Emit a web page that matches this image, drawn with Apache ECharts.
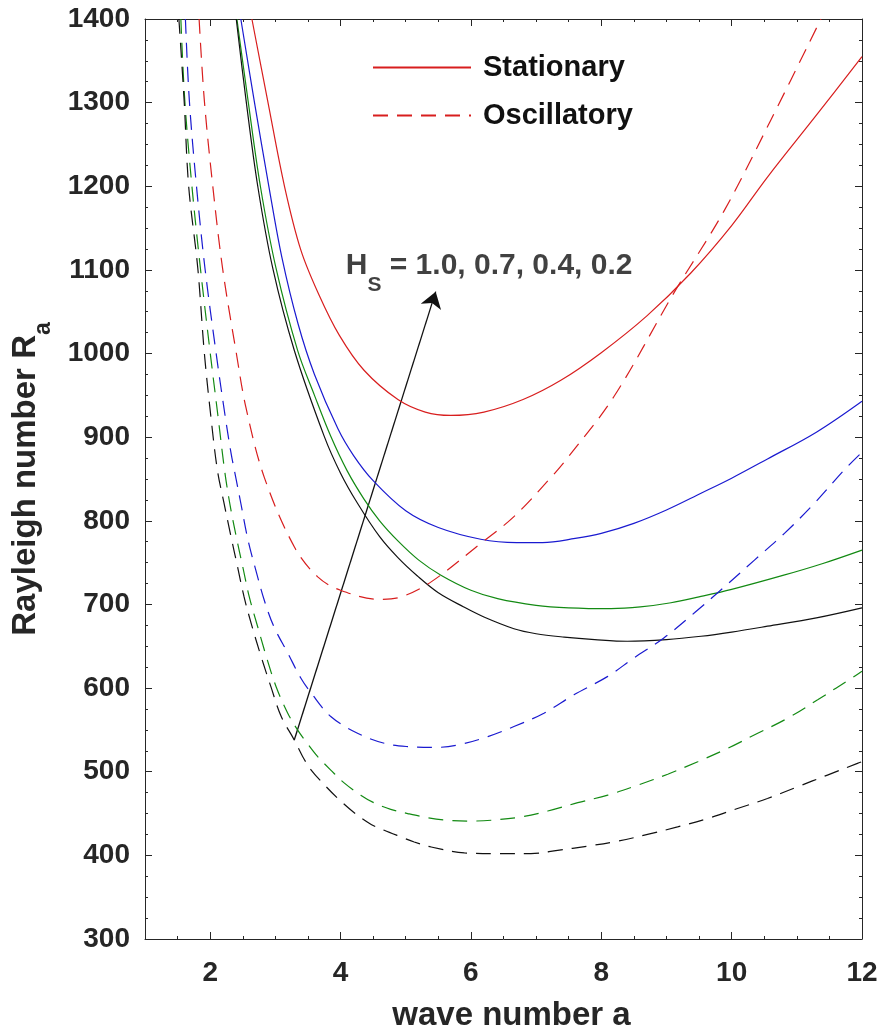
<!DOCTYPE html>
<html>
<head>
<meta charset="utf-8">
<script src="https://cdn.jsdelivr.net/npm/echarts@6/dist/echarts.min.js"></script>
<style>
  html, body { margin: 0; padding: 0; background: #fff; }
  #chart { width: 880px; height: 1034px; }
</style>
</head>
<body>
<div id="chart"></div>
<script>
  // wave number a vs Rayleigh number
  // stationary (solid) curves, one per H_S
  var statH10 = [[2.64,1400],[2.88,1303],[3.14,1200],[3.39,1124],[3.67,1070],[3.98,1022],[4.36,980],[4.88,945],[5.3,930],[5.69,926],[6.2,930],[6.8,945],[7.38,968],[8.0,1001],[8.7,1045],[9.37,1096],[10.0,1153],[10.55,1211],[11.3,1285],[12,1355]];
  var statH07 = [[2.47,1400],[2.68,1300],[2.9,1200],[3.1,1115],[3.35,1035],[3.6,975],[3.96,910],[4.2,878],[4.5,848],[5.0,812],[5.5,792],[6.15,778],[6.7,774],[7.1,774],[7.6,779],[8.0,785],[8.5,797],[9.0,813],[9.53,833],[10.0,851],[10.55,874],[11.3,906],[12,943]];
  var statH04 = [[2.41,1400],[2.58,1303],[2.77,1200],[3.01,1102],[3.34,1004],[3.6,950],[3.85,901],[4.1,860],[4.36,826],[4.6,800],[4.88,776],[5.2,753],[5.54,735],[6.0,717],[6.41,707],[7.0,699],[7.5,696],[8.15,695],[8.6,697],[9.07,702],[9.5,709],[10.0,718],[10.8,735],[11.4,749],[12,765]];
  var statH02 = [[2.40,1400],[2.55,1303],[2.73,1200],[2.96,1102],[3.29,1004],[3.75,901],[4.0,857],[4.26,821],[4.6,781],[4.88,756],[5.18,734],[5.5,714],[5.89,697],[6.2,685],[6.66,671],[7.0,665],[7.43,661],[7.9,658],[8.4,656],[9.0,658],[9.53,662],[10.0,667],[10.55,674],[11.3,684],[12,696]];
  // oscillatory (dashed) curves
  var oscH10 = [[1.83,1400],[1.91,1303],[2.04,1200],[2.19,1102],[2.40,1001],[2.55,935],[2.83,852],[3.29,769],[3.65,733],[4.0,717],[4.6,706],[4.93,709],[5.39,727],[6.15,773],[6.66,805],[7.23,852],[7.49,876],[8.19,948],[9.11,1072],[9.88,1170],[10.6,1279],[11.37,1400]];
  var oscH07 = [[1.62,1400],[1.68,1303],[1.79,1200],[1.92,1102],[2.09,1001],[2.23,925],[2.32,881],[2.40,849],[2.47,821],[2.58,777],[2.70,741],[2.83,705],[2.98,673],[3.19,642],[3.39,612],[3.55,594],[3.85,566],[4.26,546],[4.67,534],[5.03,530],[5.43,529],[5.80,532],[6.26,542],[6.66,554],[7.12,570],[7.58,592],[8.10,614],[8.5,636],[8.96,660],[9.43,690],[9.83,717],[10.35,753],[10.81,785],[11.27,821],[11.73,861],[12,882]];
  var oscH04 = [[1.55,1400],[1.61,1303],[1.72,1200],[1.85,1102],[2.0,1001],[2.12,925],[2.22,861],[2.30,821],[2.40,781],[2.50,745],[2.60,709],[2.73,673],[2.86,638],[3.01,602],[3.19,570],[3.34,550],[3.47,536],[3.65,518],[3.85,502],[4.05,487],[4.31,472],[4.51,463],[4.77,455],[5.03,450],[5.34,445],[5.64,442],[6.0,441],[6.31,442],[6.77,446],[7.18,453],[7.64,463],[8.1,472],[8.56,484],[9.02,497],[9.48,512],[9.94,528],[10.4,546],[10.86,564],[11.32,586],[11.88,614],[12,620]];
  var oscH02 = [[1.52,1400],[1.60,1303],[1.67,1200],[1.81,1102],[1.91,1001],[2.01,925],[2.11,861],[2.21,822],[2.32,781],[2.42,745],[2.52,709],[2.63,677],[2.78,638],[2.93,602],[3.09,566],[3.29,538],[3.42,518],[3.55,502],[3.78,482],[3.96,468],[4.21,451],[4.47,437],[4.67,430],[4.93,422],[5.13,416],[5.39,410],[5.9,403],[6.41,402],[6.92,402],[7.33,406],[7.79,411],[8.25,417],[8.71,425],[9.17,434],[9.63,444],[10.09,456],[10.55,468],[11.01,482],[11.47,496],[11.93,510],[12,512]];

  var xMajorTicks = [2, 4, 6, 8, 10, 12];
  var arrowFrom = [3.29, 538];
  var arrowTo = [5.46, 1074];
  var notePos = [4.08, 1096];
  var legendNames = ['Stationary', 'Oscillatory'];

  var FONT = '"Liberation Sans", Arial, sans-serif';
  var AXIS_COLOR = '#262626';
  var RED = '#d81e1e', BLUE = '#1a1ad0', GREEN = '#138a13', BLACK = '#111111';
  var DASH = [15, 9];

  var chart = echarts.init(document.getElementById('chart'));

  function curve(name, data, color, dashed) {
    return {
      name: name,
      type: 'line',
      data: data,
      xAxisIndex: 0,
      yAxisIndex: 0,
      symbol: 'none',
      showSymbol: false,
      smooth: 0.35,
      clip: true,
      silent: true,
      color: color,
      lineStyle: { color: color, width: 1.2, type: dashed ? DASH : 'solid' }
    };
  }

  var tickLine = { color: AXIS_COLOR, width: 1 };
  var labelStyle = { fontSize: 28, fontWeight: 'bold', color: AXIS_COLOR, fontFamily: FONT };

  var option = {
    animation: false,
    backgroundColor: '#fff',
    grid: { left: 145, right: 18, top: 19, bottom: 95, containLabel: false, outerBoundsMode: 'none' },
    legend: {
      data: legendNames,
      orient: 'vertical',
      left: 367,
      top: 48,
      itemWidth: 98,
      itemHeight: 28,
      itemGap: 19,
      itemStyle: { opacity: 0 },
      textStyle: { fontSize: 29, fontWeight: 'bold', color: '#111', fontFamily: FONT, padding: [0, 0, 0, 7] }
    },
    xAxis: [
      {
        type: 'value', position: 'bottom', min: 1, max: 12,
        axisLine: { show: true, onZero: false, lineStyle: tickLine },
        axisTick: { show: true, inside: true, length: 7, customValues: xMajorTicks, lineStyle: tickLine },
        axisLabel: Object.assign({ customValues: xMajorTicks, margin: 20 }, labelStyle),
        splitLine: { show: false },
        name: 'wave number a',
        nameLocation: 'middle',
        nameGap: 60,
        nameTextStyle: { fontSize: 33, fontWeight: 'bold', color: AXIS_COLOR, fontFamily: FONT, padding: [0, 0, 0, 16] }
      },
      {
        type: 'value', position: 'bottom', min: 1, max: 12, interval: 0.5,
        axisLine: { show: false },
        axisTick: { show: true, inside: true, length: 3, lineStyle: tickLine },
        axisLabel: { show: false },
        splitLine: { show: false }
      },
      {
        type: 'value', position: 'top', min: 1, max: 12,
        axisLine: { show: true, onZero: false, lineStyle: tickLine },
        axisTick: { show: true, inside: true, length: 7, customValues: xMajorTicks, lineStyle: tickLine },
        axisLabel: { show: false },
        splitLine: { show: false }
      },
      {
        type: 'value', position: 'top', min: 1, max: 12, interval: 0.5,
        axisLine: { show: false },
        axisTick: { show: true, inside: true, length: 3, lineStyle: tickLine },
        axisLabel: { show: false },
        splitLine: { show: false }
      }
    ],
    yAxis: [
      {
        type: 'value', position: 'left', min: 300, max: 1400, interval: 100,
        axisLine: { show: true, onZero: false, lineStyle: tickLine },
        axisTick: { show: true, inside: true, length: 7, lineStyle: tickLine },
        minorTick: { show: true, splitNumber: 4, length: 3, lineStyle: tickLine },
        axisLabel: Object.assign({ margin: 15, formatter: function (v) { return String(v); } }, labelStyle),
        splitLine: { show: false },
        name: '{t|Rayleigh number R}{s|a}',
        nameLocation: 'middle',
        nameGap: 90,
        nameRotate: 90,
        nameTextStyle: {
          color: AXIS_COLOR,
          rich: {
            t: { fontSize: 33, fontWeight: 'bold', color: AXIS_COLOR, fontFamily: FONT, verticalAlign: 'top', lineHeight: 33 },
            s: { fontSize: 23, fontWeight: 'bold', color: AXIS_COLOR, fontFamily: FONT, verticalAlign: 'bottom', lineHeight: 46 }
          }
        }
      },
      {
        type: 'value', position: 'right', min: 300, max: 1400, interval: 100,
        axisLine: { show: true, onZero: false, lineStyle: tickLine },
        axisTick: { show: true, inside: true, length: 7, lineStyle: tickLine },
        minorTick: { show: true, splitNumber: 4, length: 3, lineStyle: tickLine },
        axisLabel: { show: false },
        splitLine: { show: false }
      }
    ],
    series: [
      curve('Stationary', statH10, RED, false),
      curve('Stationary H=0.7', statH07, BLUE, false),
      curve('Stationary H=0.4', statH04, GREEN, false),
      curve('Stationary H=0.2', statH02, BLACK, false),
      curve('Oscillatory', oscH10, RED, true),
      curve('Oscillatory H=0.7', oscH07, BLUE, true),
      curve('Oscillatory H=0.4', oscH04, GREEN, true),
      curve('Oscillatory H=0.2', oscH02, BLACK, true),
      {
        // H_S note
        type: 'scatter',
        name: 'note',
        data: [notePos],
        symbolSize: 0,
        silent: true,
        label: {
          show: true,
          position: 'right',
          distance: 0,
          formatter: '{h|H}{s|S}{h| = 1.0, 0.7, 0.4, 0.2}',
          rich: {
            h: { fontSize: 30, fontWeight: 'bold', color: '#111', fontFamily: FONT, verticalAlign: 'top', lineHeight: 30 },
            s: { fontSize: 21, fontWeight: 'bold', color: '#111', fontFamily: FONT, verticalAlign: 'bottom', lineHeight: 45 }
          }
        }
      },
      {
        // arrow
        type: 'lines',
        coordinateSystem: 'cartesian2d',
        xAxisIndex: 0,
        yAxisIndex: 0,
        silent: true,
        symbol: ['none', 'arrow'],
        symbolSize: 16,
        lineStyle: { color: '#111', width: 1.3, type: 'solid', opacity: 1 },
        data: [{ coords: [arrowFrom, arrowTo] }]
      }
    ]
  };

  chart.setOption(option);
</script>
</body>
</html>
